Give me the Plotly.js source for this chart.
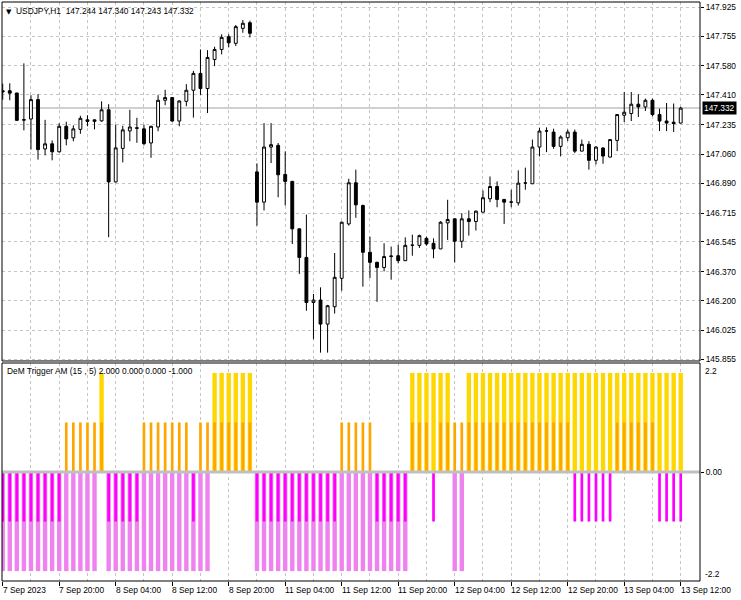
<!DOCTYPE html>
<html>
<head>
<meta charset="utf-8">
<script src="https://cdn.plot.ly/plotly-3.0.1.min.js"></script>
<style>
html,body{margin:0;padding:0;background:#fff;}
#chart{width:741px;height:600px;}
</style>
</head>
<body>
<div id="chart"></div>
<script>
// ---- data ----
const symbol = 'USDJPY';
const timeframe = 'H1';
const indicatorName = 'DeM Trigger AM (15 , 5)';

const timeLabels = ['7 Sep 2023','7 Sep 20:00','8 Sep 04:00','8 Sep 12:00','8 Sep 20:00','11 Sep 04:00','11 Sep 12:00','11 Sep 20:00','12 Sep 04:00','12 Sep 12:00','12 Sep 20:00','13 Sep 04:00','13 Sep 12:00'];
const timeLabelBars = [0,8,16,24,32,40,48,56,64,72,80,88,96];

const priceTicks = ['147.925','147.755','147.580','147.410','147.235','147.060','146.890','146.715','146.545','146.370','146.200','146.025','145.855'];

const open = [
147.434,147.434,147.421,147.264,147.268,147.382,147.092,147.122,147.075,147.225,
147.157,147.207,147.263,147.254,147.257,147.322,146.898,147.095,147.198,147.216,
147.210,147.127,147.221,147.378,147.394,147.256,147.372,147.437,147.536,147.447,
147.618,147.677,147.752,147.713,147.801,147.834,146.957,146.779,147.103,147.113,
146.942,146.901,146.622,146.454,146.189,146.203,146.062,146.164,146.331,146.651,
146.893,146.759,146.484,146.425,146.395,146.459,146.464,146.435,146.525,146.525,
146.566,146.537,146.504,146.657,146.681,146.549,146.681,146.665,146.720,146.799,
146.871,146.795,146.779,146.775,146.891,146.887,147.103,147.197,147.191,147.107,
147.158,147.191,147.079,147.119,147.025,147.097,147.044,147.142,147.290,147.300,
147.355,147.339,147.378,147.294,147.256,147.249,147.244];

const high = [
147.476,147.478,147.422,147.595,147.408,147.414,147.263,147.142,147.243,147.252,
147.231,147.287,147.290,147.266,147.372,147.355,147.234,147.228,147.322,147.275,
147.234,147.228,147.408,147.440,147.397,147.378,147.473,147.551,147.677,147.673,
147.693,147.766,147.766,147.821,147.850,147.846,147.007,147.244,147.244,147.127,
147.078,146.904,146.624,146.706,146.239,146.278,146.175,146.480,146.665,146.917,
146.970,146.765,146.576,146.429,146.537,146.518,146.529,146.572,146.588,146.588,
146.576,146.566,146.667,146.793,146.682,146.714,146.730,146.730,146.848,146.930,
146.901,146.798,146.852,146.966,146.982,147.147,147.217,147.219,147.211,147.172,
147.206,147.206,147.147,147.138,147.107,147.103,147.148,147.296,147.427,147.427,
147.414,147.388,147.388,147.329,147.362,147.359,147.340];

const low = [
147.381,147.378,147.257,147.201,147.088,147.029,147.054,147.025,147.072,147.113,
147.137,147.181,147.225,147.207,147.252,146.573,146.895,147.013,147.137,147.128,
147.113,147.040,147.196,147.349,147.252,147.225,147.343,147.276,147.408,147.303,
147.579,147.648,147.689,147.697,147.775,147.748,146.641,146.730,147.009,146.808,
146.759,146.533,146.357,146.140,145.973,145.894,145.894,146.124,146.258,146.641,
146.687,146.282,146.333,146.193,146.372,146.323,146.419,146.432,146.464,146.510,
146.523,146.449,146.503,146.557,146.425,146.510,146.582,146.612,146.718,146.779,
146.749,146.651,146.749,146.759,146.852,146.886,147.048,147.073,147.093,147.048,
147.138,147.068,147.078,146.970,147.001,147.005,147.042,147.079,147.250,147.256,
147.280,147.315,147.284,147.197,147.197,147.191,147.243];

const close = [
147.428,147.420,147.260,147.262,147.382,147.088,147.122,147.075,147.225,147.151,
147.210,147.272,147.254,147.263,147.322,146.898,147.098,147.204,147.221,147.214,
147.123,147.225,147.378,147.394,147.256,147.374,147.437,147.536,147.447,147.630,
147.677,147.748,147.716,147.811,147.831,147.772,146.779,147.103,147.117,146.940,
146.901,146.622,146.454,146.189,146.203,146.062,146.170,146.337,146.661,146.893,
146.763,146.484,146.425,146.395,146.459,146.462,146.435,146.525,146.526,146.582,
146.533,146.504,146.661,146.677,146.549,146.681,146.665,146.726,146.805,146.871,
146.795,146.779,146.780,146.891,146.892,147.103,147.197,147.198,147.107,147.162,
147.191,147.079,147.119,147.025,147.103,147.050,147.147,147.294,147.308,147.355,
147.339,147.378,147.294,147.256,147.244,147.241,147.332];

// slow DeM trigger: +2 (gold) / -2 (violet)
const slowSignal = [
-2,-2,-2,-2,-2,-2,-2,-2,-2,-2,
-2,-2,-2,-2,2,-2,-2,-2,-2,-2,
-2,-2,-2,-2,-2,-2,-2,-2,-2,-2,
2,2,2,2,2,2,-2,-2,-2,-2,
-2,-2,-2,-2,-2,-2,-2,-2,-2,-2,
-2,-2,-2,-2,-2,-2,-2,-2,2,2,
2,2,2,2,-2,-2,2,2,2,2,
2,2,2,2,2,2,2,2,2,2,
2,2,2,2,2,2,2,2,2,2,
2,2,2,2,2,2,2];

// fast DeM trigger: +1 (orange) / -1 (magenta)
const fastSignal = [
-1,-1,-1,-1,-1,-1,-1,-1,-1,1,
1,1,1,1,1,-1,-1,-1,-1,-1,
1,1,1,1,1,1,1,-1,1,1,
1,1,1,1,1,1,-1,-1,-1,-1,
-1,-1,-1,-1,-1,-1,-1,-1,1,1,
1,1,1,-1,-1,-1,-1,-1,1,1,
1,-1,1,1,1,1,1,1,1,1,
1,1,1,1,1,1,1,1,1,1,
1,-1,-1,-1,-1,-1,-1,1,1,1,
1,1,1,-1,-1,-1,-1];

// ---- build ----
const n = close.length;
const idx = close.map((_, i) => i);
const gold = slowSignal.map(v => v > 0 ? v : null);
const violet = slowSignal.map(v => v < 0 ? v : null);
const orange = fastSignal.map(v => v > 0 ? v : null);
const magenta = fastSignal.map(v => v < 0 ? v : null);

const last = n - 1;
const f3 = v => v.toFixed(3);
const headerText = symbol + ',' + timeframe + '\u00A0\u00A0' + [open[last], high[last], low[last], close[last]].map(f3).join(' ');
const indVals = [slowSignal[last] > 0 ? slowSignal[last] : 0, fastSignal[last] > 0 ? fastSignal[last] : 0,
                 slowSignal[last] < 0 ? slowSignal[last] : 0, fastSignal[last] < 0 ? fastSignal[last] : 0];
const indText = indicatorName + ' ' + indVals.map(f3).join(' ');

const gridBars = [];
for (let i = 4; i <= n + 1; i += 8) gridBars.push(i);

const gridColor = '#c4c4c4';
const gridDash = '3px,3px';
const FONT = 'Liberation Sans, Arial, sans-serif';
const FS = 8.4;

const traces = [
  {
    type: 'candlestick', x: idx, open: open, high: high, low: low, close: close,
    xaxis: 'x', yaxis: 'y', whiskerwidth: 0, hoverinfo: 'skip',
    increasing: {line: {color: '#000', width: 1}, fillcolor: '#ffffff'},
    decreasing: {line: {color: '#000', width: 1}, fillcolor: '#000000'}
  },
  {type: 'bar', x: idx, y: violet, width: 0.62, marker: {color: '#EE82EE', line: {width: 0}}, xaxis: 'x', yaxis: 'y2', hoverinfo: 'skip'},
  {type: 'bar', x: idx, y: magenta, width: 0.38, marker: {color: '#FF00FF', line: {width: 0}}, xaxis: 'x', yaxis: 'y2', hoverinfo: 'skip'},
  {type: 'bar', x: idx, y: gold, width: 0.62, marker: {color: '#FFD700', line: {width: 0}}, xaxis: 'x', yaxis: 'y2', hoverinfo: 'skip'},
  {type: 'bar', x: idx, y: orange, width: 0.38, marker: {color: '#FFA500', line: {width: 0}}, xaxis: 'x', yaxis: 'y2', hoverinfo: 'skip'}
];

const annotations = [
  {xref: 'paper', x: 0, xanchor: 'left', xshift: 2, yref: 'paper', y: 1, yanchor: 'top', yshift: -4,
   text: '\u25BC', showarrow: false, font: {family: 'DejaVu Sans', size: 7, color: '#000'}},
  {xref: 'paper', x: 0, xanchor: 'left', xshift: 12, yref: 'paper', y: 1, yanchor: 'top', yshift: -2,
   text: headerText, showarrow: false, font: {family: FONT, size: FS, color: '#000'}},
  {xref: 'paper', x: 0, xanchor: 'left', xshift: 3, yref: 'y2 domain', y: 1, yanchor: 'top', yshift: -1,
   text: indText, showarrow: false, font: {family: FONT, size: FS, color: '#000'}},
  {xref: 'paper', x: 1, xanchor: 'left', xshift: 3, yref: 'y2 domain', y: 1, yanchor: 'top', yshift: -1,
   text: '2.2', showarrow: false, font: {family: FONT, size: FS, color: '#000'}},
  {xref: 'paper', x: 1, xanchor: 'left', xshift: 3, yref: 'y2 domain', y: 0, yanchor: 'bottom', yshift: 0,
   text: '-2.2', showarrow: false, font: {family: FONT, size: FS, color: '#000'}},
  {xref: 'paper', x: 1, xanchor: 'left', xshift: 2, yref: 'y', y: close[last], yanchor: 'middle',
   text: f3(close[last]), showarrow: false, bgcolor: '#000', borderpad: 1, font: {family: FONT, size: FS, color: '#fff'}}
];
timeLabels.forEach((t, k) => {
  annotations.push({xref: 'x', x: timeLabelBars[k], xanchor: 'left', xshift: -2, yref: 'paper', y: 0, yanchor: 'top', yshift: -2,
    text: t, showarrow: false, font: {family: FONT, size: FS, color: '#000'}});
});

const layout = {
  width: 741, height: 600,
  margin: {l: 2, r: 41, t: 2, b: 19, pad: 0},
  paper_bgcolor: '#fff', plot_bgcolor: '#fff',
  showlegend: false, barmode: 'overlay', boxgap: 0.42,
  font: {family: FONT, size: FS, color: '#000'},
  xaxis: {
    range: [-0.1, 98.73], anchor: 'y2', fixedrange: true,
    tickmode: 'array', tickvals: timeLabelBars, showticklabels: false,
    ticks: 'outside', ticklen: 4, tickcolor: '#000', tickwidth: 1,
    showgrid: true, gridcolor: gridColor, griddash: gridDash, gridwidth: 1,
    minor: {tickmode: 'array', tickvals: gridBars, showgrid: true, gridcolor: gridColor, griddash: gridDash, ticks: ''},
    zeroline: false, showline: false,
    rangeslider: {visible: false}
  },
  yaxis: {
    domain: [0.38, 1], range: [145.845, 147.956], anchor: 'x', side: 'right', fixedrange: true,
    tickmode: 'array', tickvals: priceTicks.map(Number), ticktext: priceTicks,
    ticks: 'outside', ticklen: 3, tickcolor: '#000',
    tickfont: {family: FONT, size: FS, color: '#000'},
    showgrid: true, gridcolor: gridColor, griddash: gridDash, gridwidth: 1,
    zeroline: false, showline: false
  },
  yaxis2: {
    domain: [0, 0.3765], range: [-2.2, 2.2], anchor: 'x', side: 'right', fixedrange: true,
    tickmode: 'array', tickvals: [0], ticktext: ['0.00'],
    ticks: 'outside', ticklen: 3, tickcolor: '#000',
    tickfont: {family: FONT, size: FS, color: '#000'},
    showgrid: false, zeroline: false, showline: false
  },
  shapes: [
    {type: 'line', xref: 'x domain', x0: 0, x1: 1, yref: 'y', y0: close[last], y1: close[last],
     line: {color: '#c0c0c0', width: 1.5}, layer: 'below'},
    {type: 'line', xref: 'x domain', x0: 0, x1: 1, yref: 'y2', y0: 0, y1: 0,
     line: {color: '#c0c0c0', width: 3}, layer: 'above'},
    {type: 'rect', xref: 'x domain', x0: 0, x1: 1, yref: 'y domain', y0: 0, y1: 1,
     line: {color: '#000', width: 1}, layer: 'above'},
    {type: 'rect', xref: 'x domain', x0: 0, x1: 1, yref: 'y2 domain', y0: 0, y1: 1,
     line: {color: '#000', width: 1}, layer: 'above'}
  ],
  annotations: annotations
};

Plotly.newPlot('chart', traces, layout, {staticPlot: true, displayModeBar: false});
</script>
</body>
</html>
